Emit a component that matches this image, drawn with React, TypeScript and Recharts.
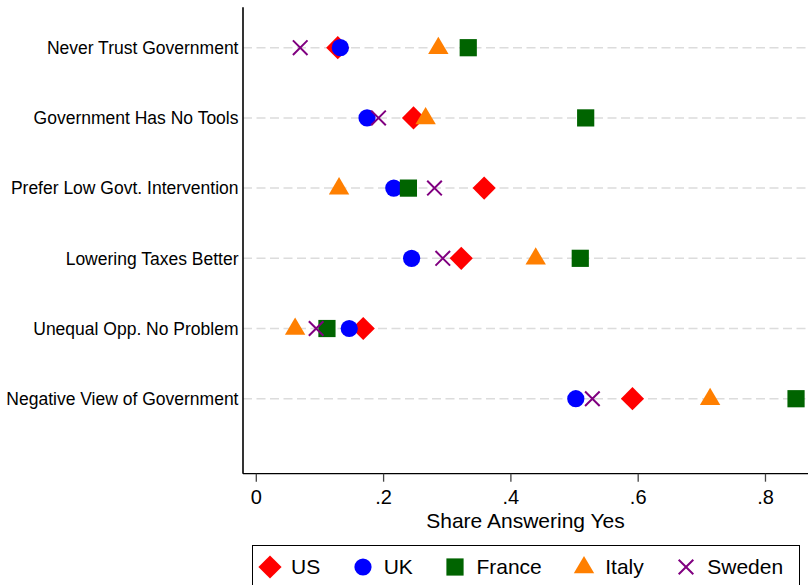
import React from 'react';
import { ScatterChart, Scatter, XAxis, YAxis, CartesianGrid, Label } from 'recharts';

const categories = [
  'Never Trust Government',
  'Government Has No Tools',
  'Prefer Low Govt. Intervention',
  'Lowering Taxes Better',
  'Unequal Opp. No Problem',
  'Negative View of Government',
];
const usValues = [0.128, 0.247, 0.358, 0.322, 0.168, 0.591];
const ukValues = [0.132, 0.174, 0.216, 0.244, 0.146, 0.502];
const franceValues = [0.333, 0.5175, 0.239, 0.509, 0.111, 0.848];
const italyValues = [0.286, 0.266, 0.13, 0.439, 0.061, 0.713];
const swedenValues = [0.069, 0.192, 0.28, 0.293, 0.094, 0.528];
const xTicks = [0, 0.2, 0.4, 0.6, 0.8];
const xTickLabels = ['0', '.2', '.4', '.6', '.8'];
const rowTicks = [1, 2, 3, 4, 5, 6];
const yDomain: [number, number] = [0.4245, 7.068];

const FONT = '"Liberation Sans", Arial, Helvetica, sans-serif';

type ShapeKind = 'diamond' | 'circle' | 'square' | 'triangle' | 'x';

const drawMarker = (kind: ShapeKind, cx: number, cy: number, color: string) => {
  switch (kind) {
    case 'diamond':
      return <path d={`M${cx},${cy - 11.6}L${cx + 11.6},${cy}L${cx},${cy + 11.6}L${cx - 11.6},${cy}Z`} fill={color} />;
    case 'circle':
      return <circle cx={cx} cy={cy} r={8.6} fill={color} />;
    case 'square':
      return <rect x={cx - 8.6} y={cy - 8.6} width={17.2} height={17.2} fill={color} />;
    case 'triangle':
      return <path d={`M${cx},${cy - 11}L${cx + 10.2},${cy + 6.3}L${cx - 10.2},${cy + 6.3}Z`} fill={color} />;
    case 'x':
    default:
      return (
        <path
          d={`M${cx - 7.3},${cy - 7.3}L${cx + 7.3},${cy + 7.3}M${cx - 7.3},${cy + 7.3}L${cx + 7.3},${cy - 7.3}`}
          stroke={color}
          strokeWidth={2}
          fill="none"
        />
      );
  }
};

const series: { name: string; values: number[]; color: string; kind: ShapeKind }[] = [
  { name: 'US', values: usValues, color: '#FF0000', kind: 'diamond' },
  { name: 'UK', values: ukValues, color: '#0000FF', kind: 'circle' },
  { name: 'France', values: franceValues, color: '#006400', kind: 'square' },
  { name: 'Italy', values: italyValues, color: '#FF7F00', kind: 'triangle' },
  { name: 'Sweden', values: swedenValues, color: '#800080', kind: 'x' },
];

const fmtX = (v: number) => {
  const i = xTicks.findIndex((t) => Math.abs(t - v) < 1e-9);
  return i >= 0 ? xTickLabels[i] : String(v);
};

const gridRows = (args: any) => {
  const yAxis = args && args.yAxis;
  if (yAxis && typeof yAxis.scale === 'function') {
    return rowTicks.map((t) => yAxis.scale(t));
  }
  const off = args.offset;
  return rowTicks.map((t) => off.top + ((t - yDomain[0]) / (yDomain[1] - yDomain[0])) * off.height);
};

export default function App() {
  return (
    <div
      style={{
        position: 'absolute',
        left: 0,
        top: 0,
        width: 808,
        height: 585,
        overflow: 'hidden',
        background: '#fff',
        fontFamily: FONT,
      }}
    >
      <ScatterChart width={808} height={585} margin={{ top: 7.3, right: 0, left: 0, bottom: 51.3 }}>
        <CartesianGrid
          vertical={false}
          stroke="#DCDCDC"
          strokeDasharray="9 4.5"
          strokeWidth={1.5}
          horizontalCoordinatesGenerator={gridRows}
        />
        <XAxis
          type="number"
          dataKey="x"
          domain={[-0.0209, 0.8668]}
          allowDataOverflow
          ticks={xTicks}
          tickFormatter={fmtX}
          height={60}
          tickSize={8}
          tickMargin={8}
          axisLine={{ stroke: '#000', strokeWidth: 1.3 }}
          tickLine={{ stroke: '#444', strokeWidth: 1.3 }}
          tick={{ fontSize: 20, fill: '#000', fontFamily: FONT }}
        >
          <Label
            value="Share Answering Yes"
            position="insideBottom"
            offset={5.4}
            style={{ fontSize: 21, fill: '#000', fontFamily: FONT }}
          />
        </XAxis>
        <YAxis
          type="number"
          dataKey="y"
          domain={yDomain}
          allowDataOverflow
          reversed
          ticks={rowTicks}
          tickFormatter={(v: number) => categories[v - 1]}
          width={243}
          tickLine={false}
          tickSize={0}
          tickMargin={4.5}
          axisLine={{ stroke: '#000', strokeWidth: 1.6 }}
          tick={{ fontSize: 17.5, fill: '#000', fontFamily: FONT }}
        />
        {series.map((s) => (
          <Scatter
            key={s.name}
            name={s.name}
            data={categories.map((c, i) => ({ x: s.values[i], y: i + 1, category: c }))}
            isAnimationActive={false}
            shape={(p: any) => drawMarker(s.kind, p.cx, p.cy, s.color)}
          />
        ))}
      </ScatterChart>
      <div
        style={{
          position: 'absolute',
          left: 252,
          top: 545,
          width: 548,
          height: 60,
          border: '1px solid #000',
          boxSizing: 'border-box',
          display: 'flex',
          alignItems: 'flex-start',
          paddingLeft: 5,
          paddingTop: 0,
        }}
      >
        {series.map((s) => (
          <div
            key={s.name}
            style={{ display: 'flex', alignItems: 'center', height: 41, marginRight: 30.5 }}
          >
            <svg width={24} height={26} style={{ display: 'block' }}>
              {drawMarker(s.kind, 12, 13, s.color)}
            </svg>
            <span style={{ fontSize: 21, color: '#000', marginLeft: 9, lineHeight: '24px' }}>{s.name}</span>
          </div>
        ))}
      </div>
    </div>
  );
}
